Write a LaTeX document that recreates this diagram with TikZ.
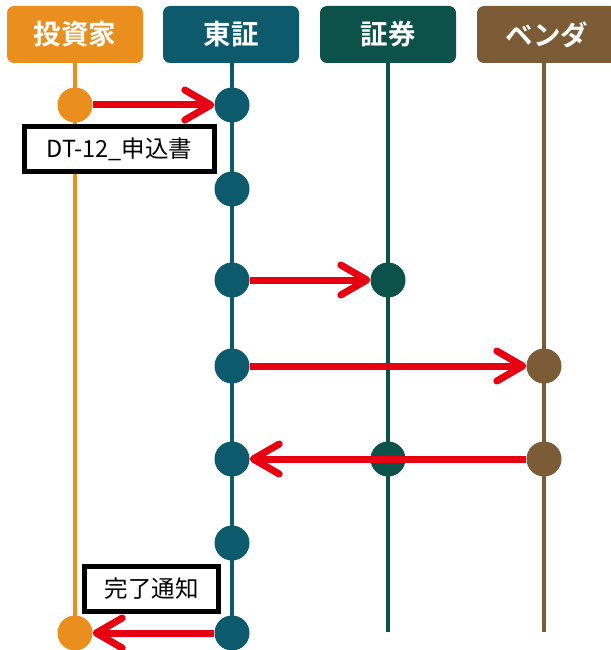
\documentclass[tikz,border=0pt]{standalone}
\usepackage{fontspec}
\setmainfont{Noto Sans CJK JP}
\newfontfamily\jpbold{Noto Sans CJK JP Bold}
\usetikzlibrary{arrows.meta}
\definecolor{cOr}{HTML}{EA8F1E}
\definecolor{cTe}{HTML}{0D5A6C}
\definecolor{cGr}{HTML}{0D514B}
\definecolor{cBr}{HTML}{7B5C37}
\definecolor{cRd}{HTML}{E60012}
\begin{document}
\begin{tikzpicture}[x=1pt,y=-1pt,
  hdr/.style={rounded corners=7pt, minimum width=136pt, minimum height=57pt, inner sep=0pt, text=white, font=\jpbold\fontsize{27.5}{32}\selectfont},
  life/.style={line width=4pt},
  dot/.style={circle, minimum size=35pt, inner sep=0pt},
  msg/.style={draw=cRd, line width=7pt, -{Straight Barb[length=26pt,width=30pt,round]}},
  lbl/.style={draw=black, line width=5pt, fill=white, inner sep=0pt, font=\fontsize{23.5}{28}\selectfont}]
\useasboundingbox (0,0) rectangle (610,650);
% headers
\node[hdr, fill=cOr] (hA) at (75,34.5) {投資家};
\node[hdr, fill=cTe] (hB) at (231,34.5) {東証};
\node[hdr, fill=cGr] (hC) at (388,34.5) {証券};
\node[hdr, fill=cBr, minimum width=140pt] (hD) at (547,34.5) {ベンダ};
% lifeline ends
\coordinate (eA) at (75,633);
\coordinate (eB) at (232,633);
\coordinate (eC) at (388,632);
\coordinate (eD) at (544,632);
\draw[life, draw=cOr] (hA.south) -- (eA);
\draw[life, draw=cTe] (hB.south -| eB) -- (eB);
\draw[life, draw=cGr] (hC.south) -- (eC);
\draw[life, draw=cBr] (hD.south -| eD) -- (eD);
% dots
\node[dot, fill=cOr] (a1) at (75,105) {};
\node[dot, fill=cTe] (b1) at (232,105) {};
\node[dot, fill=cTe] (b2) at (232,189) {};
\node[dot, fill=cTe] (b3) at (232,280) {};
\node[dot, fill=cGr] (c3) at (388,280) {};
\node[dot, fill=cTe] (b4) at (232,366) {};
\node[dot, fill=cBr] (d4) at (544,366) {};
\node[dot, fill=cTe] (b5) at (232,459) {};
\node[dot, fill=cGr] (c5) at (388,459) {};
\node[dot, fill=cBr] (d5) at (544,459) {};
\node[dot, fill=cTe] (b6) at (232,543) {};
\node[dot, fill=cTe] (b7) at (232,633) {};
\node[dot, fill=cOr] (a7) at (75,633) {};
% messages
\draw[msg] (a1) -- (b1);
\draw[msg] (b3) -- (c3);
\draw[msg] (b4) -- (d4);
\draw[msg] (d5) -- (b5);
\draw[msg] (b7) -- (a7);
% labels
\node[lbl, minimum width=190pt, minimum height=45pt] (l1) at (119.5,149) {DT-12\_申込書};
\node[lbl, minimum width=134pt, minimum height=45pt] (l2) at (151.5,589) {完了通知};
\end{tikzpicture}
\end{document}
